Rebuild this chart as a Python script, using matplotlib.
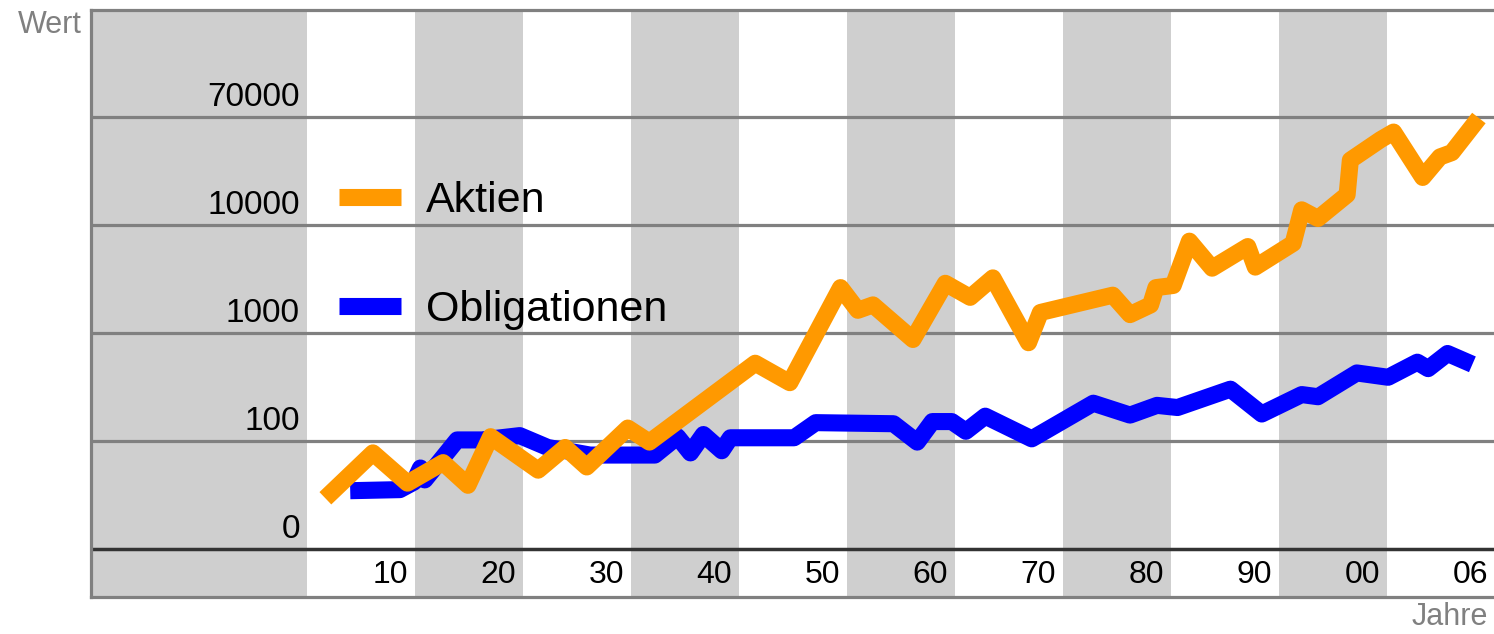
import matplotlib
matplotlib.use('Agg')
import matplotlib.pyplot as plt

plt.rcParams['font.family'] = ['Liberation Sans', 'DejaVu Sans']

# --- data (x = year position, y = decade level of the chart's stepped scale) ---
aktien_jahr = [1904.0, 1908.4, 1911.6, 1914.9, 1917.2, 1919.3, 1923.7, 1926.2, 1928.2,
               1932.0, 1934.0, 1943.8, 1947.0, 1951.7, 1953.3, 1954.7, 1958.4, 1961.4,
               1963.7, 1965.8, 1969.1, 1970.2, 1976.9, 1978.5, 1980.4, 1980.9, 1982.5,
               1984.0, 1986.1, 1989.4, 1990.1, 1993.6, 1994.4, 1995.9, 1998.6, 1998.9,
               2001.7, 2002.9, 2005.6, 2007.2, 2008.3, 2010.8]
aktien_stufe = [0.47, 0.89, 0.61, 0.80, 0.59, 1.04, 0.73, 0.94, 0.76,
                1.12, 0.99, 1.72, 1.54, 2.42, 2.21, 2.26, 1.94, 2.46,
                2.33, 2.51, 1.91, 2.19, 2.35, 2.17, 2.26, 2.42, 2.44,
                2.85, 2.60, 2.80, 2.61, 2.83, 3.14, 3.06, 3.28, 3.60,
                3.79, 3.86, 3.44, 3.63, 3.67, 3.99]

obl_jahr = [1906.3, 1910.9, 1912.2, 1912.8, 1913.2, 1916.2, 1918.5, 1922.0, 1924.6,
            1928.5, 1934.5, 1936.6, 1937.8, 1939.0, 1940.7, 1941.5, 1947.4, 1949.4,
            1956.6, 1958.8, 1960.2, 1962.0, 1963.3, 1965.1, 1969.4, 1975.1, 1978.5,
            1981.0, 1982.9, 1987.8, 1990.7, 1994.4, 1995.9, 1999.5, 2002.4, 2005.1,
            2006.1, 2007.9, 2010.2]
obl_stufe = [0.54, 0.55, 0.62, 0.75, 0.64, 1.01, 1.01, 1.05, 0.94,
             0.87, 0.87, 1.04, 0.89, 1.06, 0.91, 1.03, 1.03, 1.17,
             1.16, 0.99, 1.18, 1.18, 1.09, 1.23, 1.02, 1.35, 1.24,
             1.33, 1.31, 1.48, 1.25, 1.43, 1.41, 1.63, 1.59, 1.73,
             1.67, 1.81, 1.71]

y_labels = ['0', '100', '1000', '10000', '70000']
y_label_stufe = [0, 1, 2, 3, 4]
x_labels = ['10', '20', '30', '40', '50', '60', '70', '80', '90', '00', '06']
x_label_jahr = [1910, 1920, 1930, 1940, 1950, 1960, 1970, 1980, 1990, 2000, 2010]
serien_namen = ['Aktien', 'Obligationen']

# --- figure ---
W, H = 1494, 634
fig = plt.figure(figsize=(W / 100, H / 100), dpi=100)
ax = fig.add_axes([91 / W, 37 / H, (W - 91) / W, 587 / H])

x0, x1 = 1882.3, 2012.2
y0, y1 = -0.444, 4.99
ax.set_xlim(x0, x1)
ax.set_ylim(y0, y1)

band_col = '#cfcfcf'
# stippled vertical bands (every other decade)
ax.axvspan(x0, 1902.3, color=band_col, lw=0, zorder=0)
s = 1912.3
while s < x1:
    ax.axvspan(s, s + 10, color=band_col, lw=0, zorder=0)
    s += 20

grid_col = '#808080'
for lv in y_label_stufe[1:]:
    ax.axhline(lv, color=grid_col, lw=2.3, zorder=1)
ax.axhline(0, color='#333333', lw=2.5, zorder=1)

ax.spines['right'].set_visible(False)
for sp in ['left', 'top', 'bottom']:
    ax.spines[sp].set_color(grid_col)
    ax.spines[sp].set_linewidth(2.3)
ax.set_xticks([])
ax.set_yticks([])

lw = 12.3
l_obl, = ax.plot(obl_jahr, obl_stufe, color='#0000ff', lw=lw,
                 solid_capstyle='butt', solid_joinstyle='round', zorder=3)
l_akt, = ax.plot(aktien_jahr, aktien_stufe, color='#ff9900', lw=lw,
                 solid_capstyle='butt', solid_joinstyle='round', zorder=4)

# y labels (inside plot, sitting above gridlines)
for lab, lv in zip(y_labels, y_label_stufe):
    ax.text(1901.65, lv + 0.105, lab, ha='right', va='baseline', fontsize=24,
            color='black', zorder=5)
# x labels (inside bottom band)
for lab, yr in zip(x_labels, x_label_jahr):
    ax.text(yr, -0.315, lab, ha='center', va='baseline', fontsize=23,
            color='black', zorder=5)

fig.text(82 / W, (H - 33) / H, 'Wert', ha='right', va='baseline', fontsize=22,
         color='#808080')
fig.text(1488 / W, (H - 625) / H, 'Jahre', ha='right', va='baseline', fontsize=22,
         color='#808080')

leg = ax.legend(handles=[l_akt, l_obl], labels=serien_namen, loc='upper left',
                bbox_to_anchor=((339 - 91) / (W - 91), (597 - 181) / 587),
                frameon=False, fontsize=31, handlelength=1.44, handletextpad=0.58,
                labelspacing=1.6, borderpad=0, borderaxespad=0)
leg.set_zorder(6)

fig.savefig('out.png', dpi=100)
